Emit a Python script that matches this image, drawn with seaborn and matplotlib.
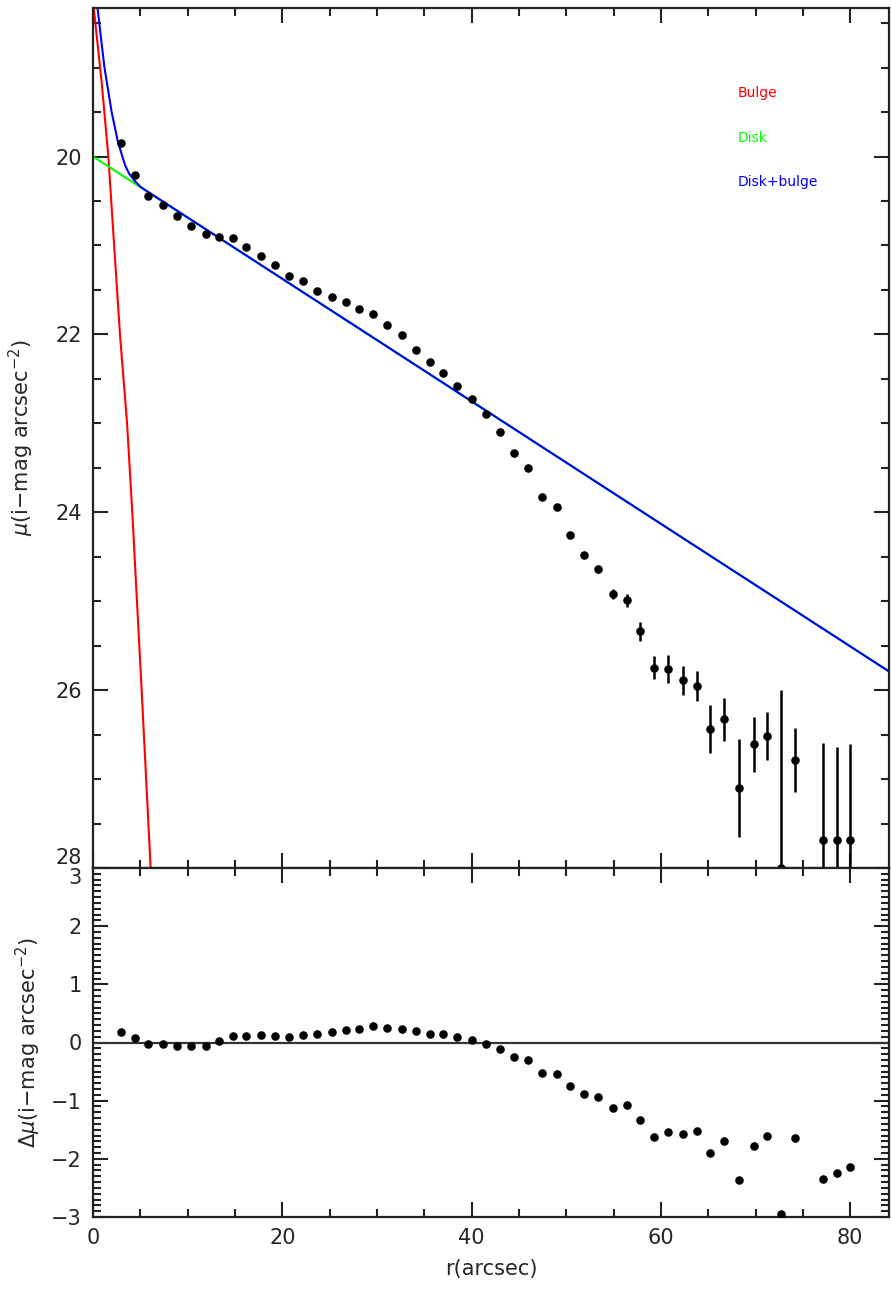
import numpy as np
import pandas as pd
import matplotlib
matplotlib.use("Agg")
import matplotlib.pyplot as plt
from matplotlib.ticker import MultipleLocator
import seaborn as sns

# radial profile
radius = [2.96, 4.43, 5.84, 7.43, 8.84, 10.35, 11.9, 13.3, 14.8, 16.2,
          17.7, 19.2, 20.7, 22.2, 23.7, 25.2, 26.7, 28.1, 29.6, 31.1,
          32.6, 34.1, 35.6, 37.0, 38.5, 40.0, 41.5, 43.0, 44.5, 46.0,
          47.4, 49.0, 50.4, 51.9, 53.4, 54.9, 56.4, 57.8, 59.3, 60.8,
          62.3, 63.8, 65.2, 66.7, 68.3, 69.8, 71.2, 72.7, 74.2, 77.1,
          78.6, 80.0]
mu = [19.85, 20.21, 20.44, 20.54, 20.67, 20.78, 20.87, 20.90, 20.92, 21.02,
      21.12, 21.22, 21.34, 21.40, 21.51, 21.58, 21.64, 21.72, 21.77, 21.90,
      22.01, 22.17, 22.31, 22.43, 22.58, 22.73, 22.90, 23.10, 23.33, 23.50,
      23.83, 23.94, 24.26, 24.48, 24.64, 24.92, 24.99, 25.34, 25.75, 25.76,
      25.89, 25.95, 26.44, 26.33, 27.10, 26.61, 26.52, 28.00, 26.79, 27.69,
      27.69, 27.69]
mu_err = [0.02, 0.02, 0.02, 0.02, 0.02, 0.02, 0.02, 0.02, 0.02, 0.02,
          0.02, 0.02, 0.02, 0.02, 0.02, 0.02, 0.02, 0.02, 0.02, 0.02,
          0.02, 0.02, 0.02, 0.02, 0.02, 0.02, 0.02, 0.02, 0.02, 0.03,
          0.03, 0.03, 0.03, 0.03, 0.04, 0.06, 0.07, 0.11, 0.13, 0.16,
          0.16, 0.17, 0.27, 0.24, 0.55, 0.31, 0.27, 2.00, 0.36, 1.10,
          1.05, 1.08]
resid = [0.18, 0.07, -0.03, -0.02, -0.06, -0.06, -0.06, 0.03, 0.11, 0.11,
         0.13, 0.11, 0.10, 0.13, 0.14, 0.18, 0.21, 0.24, 0.29, 0.25,
         0.24, 0.20, 0.15, 0.15, 0.09, 0.04, -0.02, -0.12, -0.25, -0.30,
         -0.53, -0.54, -0.75, -0.89, -0.94, -1.12, -1.07, -1.33, -1.63, -1.54,
         -1.57, -1.53, -1.90, -1.70, -2.36, -1.78, -1.60, -2.95, -1.64, -2.34,
         -2.25, -2.14]

# model curves
bulge_r = [0.0, 0.1, 0.92, 1.62, 2.85, 3.6, 4.15, 5.14, 6.09, 6.3]
bulge_mu = [18.25, 18.35, 19.17, 20.0, 22.0, 23.0, 24.0, 26.0, 28.0, 28.4]
disk_r = [0.0, 84.1]
disk_mu = [20.0, 25.79]
total_r = [0.0, 0.5, 1.2, 1.97, 2.6, 3.1, 3.4, 3.8, 4.3, 5.0, 6.0, 84.1]
total_mu = [17.95, 18.35, 18.99, 19.5, 19.82, 20.0, 20.1, 20.19, 20.26, 20.34, 20.41, 25.79]

mu_ticks = [20, 22, 24, 26, 28]
dmu_ticks = [-3, -2, -1, 0, 1, 2, 3]

prof = pd.DataFrame({"r": radius, "mu": mu, "err": mu_err, "dmu": resid})

sns.set_theme(style="ticks")
plt.rcParams["font.family"] = ["DejaVu Sans"]
plt.rcParams["axes.linewidth"] = 1.6

fig = plt.figure(figsize=(8.91, 12.95), dpi=100)
ax1 = fig.add_axes([93 / 891, 1 - 868 / 1295, 796 / 891, 860 / 1295])
ax2 = fig.add_axes([93 / 891, 1 - 1217 / 1295, 796 / 891, 349 / 1295])

# top panel: profile + model
sns.lineplot(x=bulge_r, y=bulge_mu, sort=False, color="#ff0000", lw=1.5, ax=ax1)
sns.lineplot(x=disk_r, y=disk_mu, sort=False, color="#00ff00", lw=1.5, ax=ax1)
sns.lineplot(x=total_r, y=total_mu, sort=False, color="#0000ff", lw=1.5, ax=ax1)
ax1.vlines(prof["r"], prof["mu"] - prof["err"], prof["mu"] + prof["err"],
           color="black", lw=1.8, zorder=4)
sns.scatterplot(data=prof, x="r", y="mu", color="black", marker="o", s=38,
                linewidth=0, ax=ax1, zorder=5)

ax1.text(0.81, 0.901, "Bulge", color="#ff0000", fontsize=10, va="center",
         transform=ax1.transAxes)
ax1.text(0.81, 0.849, "Disk", color="#00ff00", fontsize=10, va="center",
         transform=ax1.transAxes)
ax1.text(0.81, 0.798, "Disk+bulge", color="#0000ff", fontsize=10, va="center",
         transform=ax1.transAxes)

ax1.set_xlim(0, 84.1)
ax1.set_ylim(28, 18.33)
ax1.xaxis.set_major_locator(MultipleLocator(20))
ax1.xaxis.set_minor_locator(MultipleLocator(5))
ax1.set_yticks(mu_ticks)
ax1.yaxis.set_minor_locator(MultipleLocator(0.5))
ax1.tick_params(labelbottom=False)
ax1.set_xlabel("")
ax1.set_ylabel(r"$\mu$(i$-$mag arcsec$^{-2}$)", fontsize=15, labelpad=14)

# bottom panel: residuals
ax2.axhline(0, color="#333333", lw=1.6, zorder=1)
sns.scatterplot(data=prof, x="r", y="dmu", color="black", marker="o", s=38,
                linewidth=0, ax=ax2, zorder=5)
ax2.set_xlim(0, 84.1)
ax2.set_ylim(-3, 3)
ax2.xaxis.set_major_locator(MultipleLocator(20))
ax2.xaxis.set_minor_locator(MultipleLocator(5))
ax2.set_yticks(dmu_ticks)
ax2.yaxis.set_minor_locator(MultipleLocator(0.1))
ax2.set_xlabel("r(arcsec)", fontsize=15, labelpad=8)
ax2.set_ylabel(r"$\Delta\mu$(i$-$mag arcsec$^{-2}$)", fontsize=15, labelpad=6)

for ax in (ax1, ax2):
    for s in ax.spines.values():
        s.set_color("#222222")
        s.set_linewidth(1.6)
    ax.tick_params(which="both", direction="in", top=True, right=True,
                   color="#222222", width=1.5, labelsize=15)
    ax.tick_params(which="major", length=11, pad=8)
    ax.tick_params(which="minor", length=5.5)

# the shared corner: keep "28" and "3" apart
ax1.get_yticklabels()[-1].set_verticalalignment("bottom")
ax2.get_yticklabels()[-1].set_verticalalignment("top")

fig.savefig("out.png", dpi=100, facecolor="white")
